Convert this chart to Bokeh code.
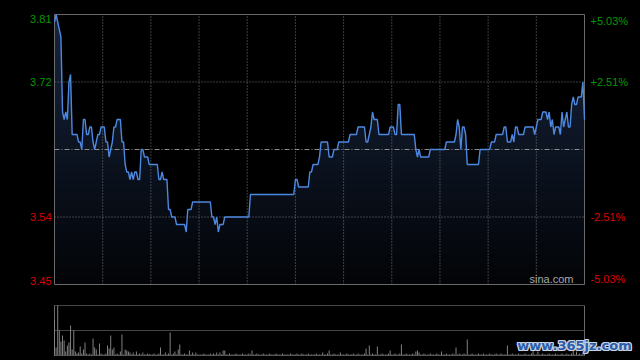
import numpy as np
from bokeh.plotting import figure
from bokeh.models import Range1d
from bokeh.core.properties import value
from bokeh.embed import file_html
from bokeh.resources import INLINE

# ---------------- data ----------------
price_minutes = [0, 1, 2, 3, 4, 5, 6, 7, 8, 9, 10, 11, 14, 15, 16, 17, 18, 19, 20, 21,
                 22, 23, 24, 25, 26, 27, 28, 29, 31, 32, 33, 34, 35, 36, 37, 38, 39, 41, 42, 43,
                 44, 45, 46, 47, 48, 49, 50, 51, 52, 53, 54, 55, 56, 58, 59, 64, 65, 66, 67, 68,
                 70, 71, 72, 73, 75, 76, 81, 82, 83, 85, 86, 97, 98, 99, 100, 101, 102, 103, 105, 106,
                 121, 122, 149, 150, 151, 152, 158, 159, 160, 161, 164, 165, 166, 170, 171, 173, 174, 176, 177, 183,
                 184, 188, 189, 193, 194, 195, 197, 198, 199, 201, 202, 208, 209, 211, 212, 213, 214, 215, 216, 224,
                 225, 226, 227, 228, 233, 234, 243, 244, 249, 250, 251, 252, 253, 254, 255, 256, 257, 264, 265, 271,
                 272, 274, 275, 279, 280, 281, 282, 284, 285, 286, 287, 288, 289, 292, 293, 298, 299, 300, 301, 303,
                 304, 306, 307, 308, 309, 310, 311, 312, 314, 315, 316, 317, 318, 319, 320, 321, 322, 323, 324, 325,
                 326, 328, 329, 330]
prices = [3.80, 3.81, 3.80, 3.79, 3.78, 3.68, 3.67, 3.68, 3.67, 3.72, 3.73, 3.65, 3.65, 3.64, 3.64, 3.63, 3.67, 3.67, 3.65, 3.65,
          3.66, 3.66, 3.64, 3.63, 3.64, 3.65, 3.65, 3.66, 3.66, 3.64, 3.64, 3.62, 3.63, 3.64, 3.66, 3.66, 3.67, 3.67, 3.64, 3.64,
          3.61, 3.60, 3.60, 3.59, 3.60, 3.59, 3.60, 3.60, 3.59, 3.59, 3.63, 3.63, 3.62, 3.62, 3.61, 3.61, 3.59, 3.59, 3.60, 3.59,
          3.59, 3.55, 3.55, 3.54, 3.54, 3.53, 3.53, 3.52, 3.55, 3.55, 3.56, 3.56, 3.54, 3.54, 3.53, 3.54, 3.52, 3.53, 3.53, 3.54,
          3.54, 3.57, 3.57, 3.59, 3.59, 3.58, 3.58, 3.60, 3.60, 3.61, 3.61, 3.62, 3.64, 3.64, 3.62, 3.62, 3.63, 3.63, 3.64, 3.64,
          3.65, 3.65, 3.66, 3.66, 3.64, 3.64, 3.66, 3.68, 3.67, 3.67, 3.65, 3.65, 3.66, 3.66, 3.65, 3.65, 3.69, 3.69, 3.65, 3.65,
          3.63, 3.62, 3.63, 3.62, 3.62, 3.63, 3.63, 3.64, 3.64, 3.65, 3.67, 3.66, 3.63, 3.66, 3.66, 3.65, 3.61, 3.61, 3.63, 3.63,
          3.64, 3.64, 3.65, 3.65, 3.66, 3.66, 3.64, 3.64, 3.65, 3.64, 3.66, 3.66, 3.65, 3.65, 3.66, 3.66, 3.65, 3.66, 3.67, 3.67,
          3.68, 3.68, 3.67, 3.68, 3.66, 3.67, 3.65, 3.66, 3.66, 3.65, 3.68, 3.66, 3.67, 3.68, 3.66, 3.66, 3.69, 3.70, 3.69, 3.69,
          3.70, 3.70, 3.72, 3.67]

prev_close = 3.63
price_low, price_high = 3.45, 3.81
session_minutes = 330
price_ticks = [3.81, 3.72, 3.54, 3.45]
price_tick_labels = ["3.81", "3.72", "3.54", "3.45"]
pct_tick_labels = ["+5.03%", "+2.51%", "-2.51%", "-5.03%"]
tick_colors = ["#009a00", "#009a00", "#dd0000", "#dd0000"]
grid_minutes = [30, 60, 90, 120, 150, 180, 210, 240, 270, 300]
grid_prices = [3.72, 3.54]

volumes = [
    35, 8, 50, 25, 14, 20, 15, 4, 10, 13, 30, 6, 25, 4, 2, 3, 9, 2, 6, 13, 2, 1, 2, 1, 17, 8, 6, 1, 12, 2,
    1, 1, 2, 10, 7, 20, 6, 8, 1, 2, 1, 4, 21, 1, 6, 5, 4, 3, 1, 3, 1, 4, 1, 2, 1, 3, 1, 1, 2, 1.5,
    1, 1, 2, 1, 1, 2, 8, 1, 1, 3, 1, 2, 23, 1, 2, 4, 1, 6, 11, 1, 1, 2, 1, 1, 5, 1, 3, 1, 3, 1,
    1, 1, 1, 2, 1, 1, 1, 2, 1, 2, 1, 3, 1, 3, 1, 5, 5, 1, 1, 2, 1, 1, 1, 2, 1, 1, 1, 2, 1, 1,
    1, 2, 1, 5, 1, 1, 2, 1, 1, 1, 2, 1, 1, 1, 2, 1, 1, 1, 2, 1, 1, 1, 2, 1, 1, 1, 1, 2, 1, 1,
    1, 2, 1, 1, 2, 1, 1, 1, 2, 1, 1, 1, 1, 2, 1, 1, 1, 3, 1, 1, 2, 5, 1, 1, 2, 1, 1, 1, 3, 1,
    1, 1, 2, 1, 1, 1, 2, 1, 1, 2, 1, 1, 1, 2, 7, 1, 10, 1, 2, 1, 1, 9, 1, 1, 2, 1, 1, 1, 2, 5,
    1, 1, 2, 1, 1, 2, 11, 1, 1, 2, 1, 1, 1, 2, 1, 4, 5, 3, 1, 1, 2, 1, 1, 1, 2, 1, 1, 1, 2, 1,
    1, 4, 1, 1, 2, 1, 1, 1, 2, 1, 8, 1, 2, 1, 1, 2, 1, 16, 1, 1, 2, 1, 1, 1, 2, 1, 1, 2, 1, 1,
    1, 2, 1, 1, 1, 2, 1, 1, 2, 1, 1, 1, 10, 1, 1, 2, 1, 1, 1, 2, 1, 1, 1, 2, 1, 1, 1, 2, 5, 1,
    1, 4, 1, 1, 2, 1, 1, 1, 2, 1, 1, 1, 2, 1, 1, 1, 2, 1, 1, 2, 1, 1, 2, 5, 1, 4, 1, 2, 1, 3,
    2,
]
volume_max = 50

# ---------------- layout (pixels) ----------------
W, H = 640, 360
PX_LEFT, PX_RIGHT = 54, 584          # x pixels of minute 0 and last minute
PX_PRICE_TOP, PX_PRICE_BOT = 14, 284  # y pixels of price_high / price_low
PX_VOL_TOP, PX_VOL_BOT = 305, 355     # y pixels of volume_max / 0

FONT = "Liberation Sans"
GRID = "#777777"
BORDER = "#6a6a6a"

# ranges such that the frame is the whole canvas
xs = (PX_RIGHT - PX_LEFT) / session_minutes
x_start = -PX_LEFT / xs
x_end = session_minutes + (W - PX_RIGHT) / xs
ys = (PX_PRICE_BOT - PX_PRICE_TOP) / (price_high - price_low)
y_start = price_low - (H - PX_PRICE_BOT) / ys
y_end = price_high + PX_PRICE_TOP / ys
vs = (PX_VOL_BOT - PX_VOL_TOP) / volume_max
v_start = -(H - PX_VOL_BOT) / vs
v_end = PX_VOL_BOT / vs

p = figure(width=W, height=H, x_range=Range1d(x_start, x_end),
           y_range=Range1d(y_start, y_end), output_backend="svg",
           toolbar_location=None, x_axis_location=None, y_axis_location=None,
           background_fill_color="black", border_fill_color="black",
           min_border=0, outline_line_color=None)
p.extra_y_ranges = {"vol": Range1d(v_start, v_end)}
p.grid.visible = False

x = np.array(price_minutes, dtype=float)
y = np.array(prices, dtype=float)

# gradient-like fill under the price line (bands stacked from the top down)
levels = np.linspace(price_low, price_high, 37)
top_rgb = np.array([22, 36, 60], dtype=float)
bot_rgb = np.array([2, 3, 6], dtype=float)
for hi in levels[:0:-1]:
    frac = (hi - price_low) / (price_high - price_low)
    c = bot_rgb + (top_rgb - bot_rgb) * frac
    col = "#%02x%02x%02x" % tuple(int(round(v)) for v in c)
    p.varea(x=x, y1=np.full_like(x, price_low), y2=np.minimum(y, hi),
            fill_color=col, fill_alpha=1.0)

# price panel grid
n = len(grid_minutes)
p.segment(x0=grid_minutes, y0=[price_low] * n, x1=grid_minutes, y1=[price_high] * n,
          line_color=GRID, line_width=1, line_dash="1 2")
m = len(grid_prices)
p.segment(x0=[0] * m, y0=grid_prices, x1=[session_minutes] * m, y1=grid_prices,
          line_color=GRID, line_width=1, line_dash="1 2")
p.segment(x0=[0], y0=[prev_close], x1=[session_minutes], y1=[prev_close],
          line_color="#8c8c8c", line_width=1, line_dash="5 2 1 2")

# price panel border
p.quad(left=[0], right=[session_minutes], bottom=[price_low], top=[price_high],
       fill_color=None, line_color=BORDER, line_width=1)

# price line
p.line(x, y, line_color="#4d88e0", line_width=1.4)

# tick labels
for t, lab, pct, col in zip(price_ticks, price_tick_labels, pct_tick_labels, tick_colors):
    if t == price_high:
        base = "top"
    elif t == price_low:
        base = "bottom"
    else:
        base = "middle"
    p.text(x=[0], y=[t], text=[lab], x_offset=-3, text_align="right",
           text_baseline=base, text_color=col, text_font=value(FONT),
           text_font_size="11px")
    p.text(x=[session_minutes], y=[t], text=[pct], x_offset=6, text_align="left",
           text_baseline=base, text_color=col, text_font=value(FONT),
           text_font_size="11px")

p.text(x=[session_minutes], y=[price_low], text=["sina.com"], x_offset=-11,
       text_align="right", text_baseline="bottom", text_color="#a8a8a8",
       text_font=value(FONT), text_font_size="11px")

# ---------------- volume panel ----------------
for lvl in (0, volume_max / 2, volume_max):
    p.segment(x0=[0], y0=[lvl], x1=[session_minutes], y1=[lvl], y_range_name="vol",
              line_color="#8a8a8a", line_width=1, line_dash="1 1")
p.segment(x0=[0, session_minutes], y0=[0, 0], x1=[0, session_minutes],
          y1=[volume_max, volume_max], y_range_name="vol",
          line_color=BORDER, line_width=1)

p.vbar(x=list(range(len(volumes))), top=volumes, bottom=0, width=0.6,
       y_range_name="vol", fill_color="#858585", line_color=None)

# watermark logo
logo = "www.365jz.com"
for dx, dy in ((1, 0), (-1, 0), (0, 1), (0, -1), (1, 1), (-1, -1), (1, -1), (-1, 1)):
    p.text(x=[session_minutes], y=[10], text=[logo], x_offset=-10 + dx, y_offset=dy,
           y_range_name="vol", text_align="center", text_baseline="middle",
           text_color="#c9d3e3", text_font=value("DejaVu Sans"),
           text_font_style="bold", text_font_size="13px")
p.text(x=[session_minutes], y=[10], text=[logo], x_offset=-10, y_range_name="vol",
       text_align="center", text_baseline="middle", text_color="#2c5da8",
       text_font=value("DejaVu Sans"), text_font_style="bold", text_font_size="13px")

html = file_html(p, INLINE)
html = html.replace("<head>", "<head><style>html,body{background:#000;}</style>", 1)
open("out.html", "w").write(html)
